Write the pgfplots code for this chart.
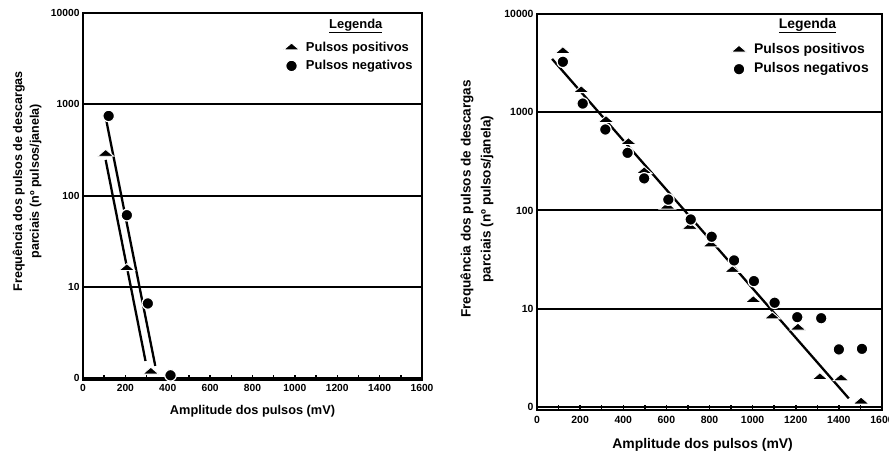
\documentclass[border=0pt]{standalone}
\usepackage{fontspec}
\setmainfont{Liberation Sans}
\usepackage{pgfplots}
\pgfplotsset{compat=1.18}
\tikzset{
  mytri/.style={only marks, mark=triangle*, mark size=6.4bp,
    mark options={fill=black, draw=white, line width=0.9bp, xscale=1.45, yscale=0.72}},
  mycir/.style={only marks, mark=*, mark size=5.8bp,
    mark options={fill=black, draw=white, line width=1.2bp}},
  myfit/.style={black, line width=2.3bp},
}
\begin{document}
\begin{tikzpicture}
\path[use as bounding box] (0,0) rectangle (889bp,456bp);
% ---------------- left panel ----------------
\begin{axis}[
  scale only axis, clip=false,
  ymode=log, xmin=0, xmax=1600, ymax=10000, ymin=0.96,
  ytick={1,10,100,1000,10000},
  yticklabels={0,10,100,1000,10000},
  xtick={0,200,...,1600},
  minor xtick={100,300,...,1500},
  xtick pos=bottom, ytick style={draw=none},
  tick align=inside,
  major tick length=5bp, minor tick length=5bp,
  xtick style={black, line width=1.5bp},
  ymajorgrids, major grid style={black, line width=2bp},
  axis line style={line width=2.2bp},
  /pgf/number format/assume math mode=true,
  /pgf/number format/1000 sep={},
  tick label style={font=\fontsize{10.3}{11}\selectfont\bfseries},
  xticklabel style={yshift=-1bp},
  legend cell align=left,
  at={(83bp,443.3bp)}, anchor=north west,
  width=339bp, height=367.3bp,
  xlabel={Amplitude dos pulsos (mV)},
  xlabel style={at={(axis description cs:0.5,-0.0863)}, anchor=center,
    font=\fontsize{12.8}{14}\selectfont\bfseries},
  ylabel={Frequência dos pulsos de descargas\\parciais (nº pulsos/janela)},
  ylabel style={at={(axis description cs:-0.165,0.541)}, anchor=center, align=center,
    font=\fontsize{12.6}{16.7}\selectfont\bfseries},
  legend style={draw=none, fill=none, at={(axis description cs:0.582,0.880)}, anchor=west,
    font=\fontsize{13}{14}\selectfont\bfseries, row sep=4.3bp,
    nodes={inner sep=1bp, text height=9.5bp, text depth=2.5bp},
    /tikz/every odd column/.append style={column sep=5.4bp}},
]
\addplot[myfit, no marks, forget plot] coordinates {(107,719) (341,1.37)};
\addplot[myfit, no marks, forget plot] coordinates {(107,245) (295,1.55)};
\addplot[mytri] coordinates {(107,285) (207,16) (320,1.18)};
\addlegendentry{Pulsos positivos}
\addplot[mycir] coordinates {(121,743) (207,61) (306,6.6) (413,1.08)};
\addlegendentry{Pulsos negativos}
\end{axis}
\node[font=\fontsize{13}{14}\selectfont\bfseries] at (355.8bp,430bp) {\underline{Legenda}};
% ---------------- right panel ----------------
\begin{axis}[
  scale only axis, clip=false,
  ymode=log, xmin=0, xmax=1600, ymax=10000, ymin=0.93,
  ytick={1,10,100,1000,10000},
  yticklabels={0,10,100,1000,10000},
  xtick={0,200,...,1600},
  minor xtick={100,300,...,1500},
  xtick pos=bottom, ytick style={draw=none},
  tick align=inside,
  major tick length=5bp, minor tick length=5bp,
  xtick style={black, line width=1.5bp},
  ymajorgrids, major grid style={black, line width=2bp},
  axis line style={line width=2.2bp},
  /pgf/number format/assume math mode=true,
  /pgf/number format/1000 sep={},
  tick label style={font=\fontsize{10.5}{11}\selectfont\bfseries},
  xticklabel style={yshift=-3bp},
  legend cell align=left,
  at={(537bp,442bp)}, anchor=north west,
  width=345bp, height=396bp,
  xlabel={Amplitude dos pulsos (mV)},
  xlabel style={at={(axis description cs:0.48,-0.089)}, anchor=center,
    font=\fontsize{14}{15}\selectfont\bfseries},
  ylabel={Frequência dos pulsos de descargas\\parciais (nº pulsos/janela)},
  ylabel style={at={(axis description cs:-0.174,0.533)}, anchor=center, align=center,
    font=\fontsize{13.6}{20}\selectfont\bfseries},
  legend style={draw=none, fill=none, at={(axis description cs:0.553,0.885)}, anchor=west,
    font=\fontsize{14}{15}\selectfont\bfseries, row sep=4.3bp,
    nodes={inner sep=1bp, text height=10bp, text depth=3bp},
    /tikz/every odd column/.append style={column sep=6bp}},
]
\addplot[myfit, no marks, forget plot] coordinates {(70,3490) (1446,1.22)};
\addplot[mytri] coordinates {(120,4170) (205,1670) (320,830) (424,495) (497,250) (605,109)
  (709,68) (806,45) (906,24.7) (1003,12.2) (1091,8.3) (1210,6.4) (1312,2.0) (1410,1.95) (1503,1.13)};
\addlegendentry{Pulsos positivos}
\addplot[mycir] coordinates {(120,3260) (212,1225) (317,667) (420,386) (497,212) (609,129)
  (713,81) (810,54) (914,31) (1006,19.1) (1102,11.5) (1207,8.2) (1318,8.0) (1400,3.85) (1507,3.9)};
\addlegendentry{Pulsos negativos}
\end{axis}
\node[font=\fontsize{14}{15}\selectfont\bfseries] at (807.5bp,430.3bp) {\underline{Legenda}};
\end{tikzpicture}
\end{document}
